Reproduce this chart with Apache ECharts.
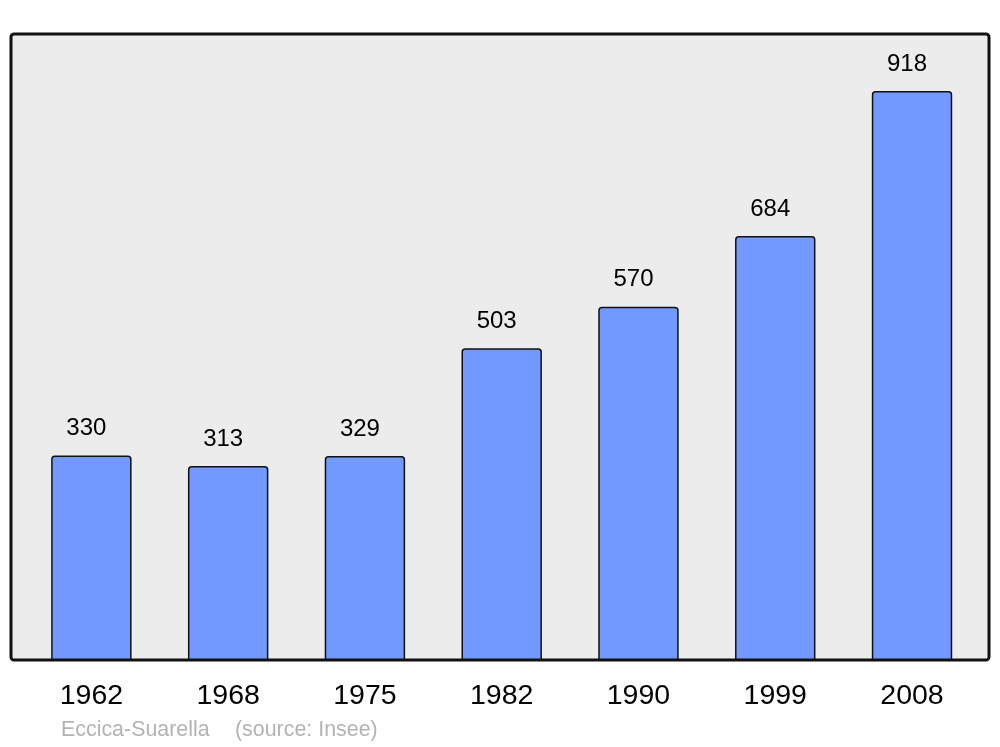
<!DOCTYPE html>
<html>
<head>
<meta charset="utf-8">
<script src="https://cdn.jsdelivr.net/npm/echarts@6/dist/echarts.min.js"></script>
<style>html,body{margin:0;padding:0;background:#fff;}#c{width:1000px;height:747px;}</style>
</head>
<body>
<div id="c"></div>
<script>
const years = ['1962', '1968', '1975', '1982', '1990', '1999', '2008'];
const population = [330, 313, 329, 503, 570, 684, 918];
const placeName = 'Eccica-Suarella';
const sourceText = '(source: Insee)';

const chart = echarts.init(document.getElementById('c'), null, {renderer: 'canvas'});
chart.setOption({
  animation: false,
  backgroundColor: '#ffffff',
  grid: {left: 23, right: 19.6, top: 34, bottom: 87},
  xAxis: {
    type: 'category',
    data: years,
    axisLine: {show: false},
    axisTick: {show: false},
    axisLabel: {
      color: '#000', fontSize: 28.5, fontFamily: 'Liberation Sans, Arial, sans-serif',
      margin: 22
    }
  },
  yAxis: {
    type: 'value', min: 0, max: 1010,
    show: false, splitLine: {show: false}
  },
  graphic: [
    {type: 'rect', z: 0, shape: {x: 11, y: 34, width: 978, height: 626, r: 3},
     style: {fill: '#ececec', stroke: '#111111', lineWidth: 3}},
    {type: 'text', z: 10, x: 61, y: 730, style: {text: placeName, fill: '#b3b3b3', fontSize: 21.4,
      fontFamily: 'Liberation Sans, Arial, sans-serif', verticalAlign: 'middle'}},
    {type: 'text', z: 10, x: 235, y: 730, style: {text: sourceText, fill: '#b3b3b3', fontSize: 21.4,
      fontFamily: 'Liberation Sans, Arial, sans-serif', verticalAlign: 'middle'}}
  ],
  series: [{
    type: 'bar',
    data: population,
    barWidth: '58.8%',
    z: 2,
    itemStyle: {color: '#7299ff', borderColor: '#111111', borderWidth: 1.5, borderRadius: [3, 3, 0, 0]},
    label: {
      show: true, position: 'top', distance: 15, offset: [-5, 0],
      color: '#000', fontSize: 24, fontFamily: 'Liberation Sans, Arial, sans-serif'
    }
  }]
});
</script>
</body>
</html>
